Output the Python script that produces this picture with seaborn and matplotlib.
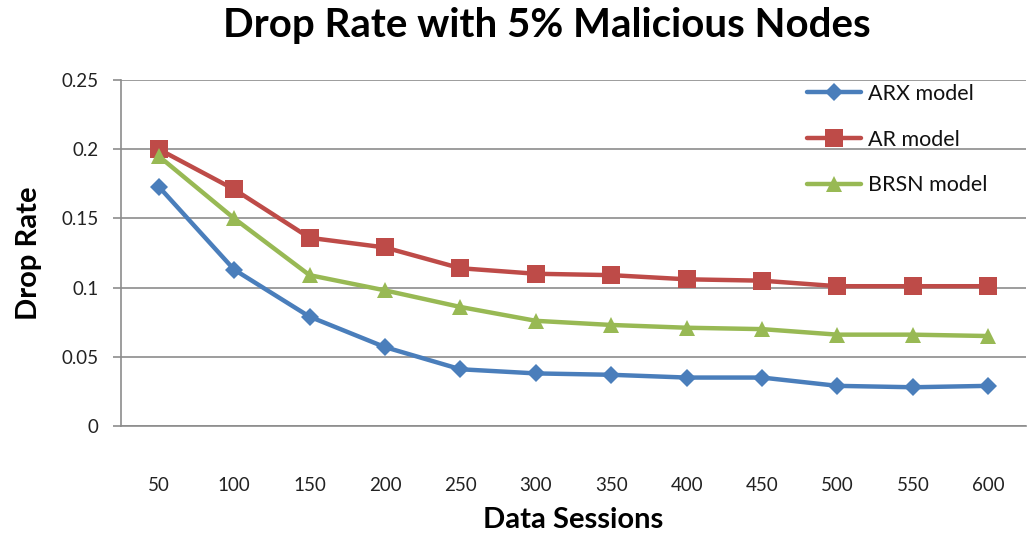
import matplotlib
matplotlib.use("Agg")
import matplotlib.pyplot as plt
import seaborn as sns
import pandas as pd

# Data sessions on the category axis
sessions = [50, 100, 150, 200, 250, 300, 350, 400, 450, 500, 550, 600]

# Drop rate per model
arx_model = [0.173, 0.113, 0.079, 0.057, 0.041, 0.038, 0.037, 0.035, 0.035, 0.029, 0.028, 0.029]
ar_model = [0.200, 0.171, 0.136, 0.129, 0.114, 0.110, 0.109, 0.106, 0.105, 0.101, 0.101, 0.101]
brsn_model = [0.195, 0.150, 0.109, 0.098, 0.086, 0.076, 0.073, 0.071, 0.070, 0.066, 0.066, 0.065]

series_names = ["ARX model", "AR model", "BRSN model"]
y_ticks = [0, 0.05, 0.1, 0.15, 0.2, 0.25]
y_tick_labels = ["0", "0.05", "0.1", "0.15", "0.2", "0.25"]

rows = []
for name, vals in zip(series_names, [arx_model, ar_model, brsn_model]):
    for i, (s, v) in enumerate(zip(sessions, vals)):
        rows.append({"pos": i, "session": s, "rate": v, "model": name})
df = pd.DataFrame(rows)

sns.set_theme(style="white")
plt.rcParams["font.family"] = ["Lato", "DejaVu Sans"]

fig = plt.figure(figsize=(10.27, 5.38), dpi=100)
ax = fig.add_axes([121 / 1027, 1 - 426 / 538, (1026 - 121) / 1027, (426 - 80) / 538])

palette = {"ARX model": "#4A7EBB", "AR model": "#BE4B48", "BRSN model": "#98B954"}
markers = {"ARX model": "D", "AR model": "s", "BRSN model": "^"}
msizes = {"ARX model": 9, "AR model": 13, "BRSN model": 12}

for name in series_names:
    sub = df[df["model"] == name]
    sns.lineplot(data=sub, x="pos", y="rate", ax=ax, color=palette[name],
                 marker=markers[name], markersize=msizes[name],
                 markeredgewidth=0, linewidth=3.2, label=name, zorder=3)

ax.set_xlim(-0.5, len(sessions) - 0.5)
ax.set_ylim(0, 0.25)
ax.set_xticks(range(len(sessions)))
ax.set_xticklabels([str(s) for s in sessions])
ax.set_yticks(y_ticks)
ax.set_yticklabels(y_tick_labels)

ax.yaxis.grid(True, color="#8c8c8c", linewidth=1.2)
ax.xaxis.grid(False)
for side in ["top", "right"]:
    ax.spines[side].set_visible(False)
ax.spines["left"].set_color("#8c8c8c")
ax.spines["bottom"].set_color("#8c8c8c")
ax.spines["left"].set_linewidth(1.2)
ax.spines["bottom"].set_linewidth(1.2)

ax.tick_params(axis="y", which="major", left=True, length=6, width=1.2,
               color="#8c8c8c", labelsize=13.5, labelcolor="#222222", pad=10)
ax.tick_params(axis="x", which="major", bottom=False, labelsize=13.5,
               labelcolor="#222222", pad=31)

ax.set_xlabel("Data Sessions", fontsize=21, fontweight="bold", labelpad=9, color="black")
ax.set_ylabel("Drop Rate", fontsize=21, fontweight="bold", labelpad=14, color="black")
fig.suptitle("Drop Rate with 5% Malicious Nodes", fontsize=29, fontweight="bold",
             x=547 / 1027, y=1 - 26 / 538, va="center", color="black")

leg = ax.legend(loc="upper left", bbox_to_anchor=(0.737, 1.045), frameon=False,
                fontsize=15.5, handlelength=2.5, labelspacing=1.2, handletextpad=0.3)
for t in leg.get_texts():
    t.set_color("#111111")

fig.savefig("out.png", dpi=100, facecolor="white")
